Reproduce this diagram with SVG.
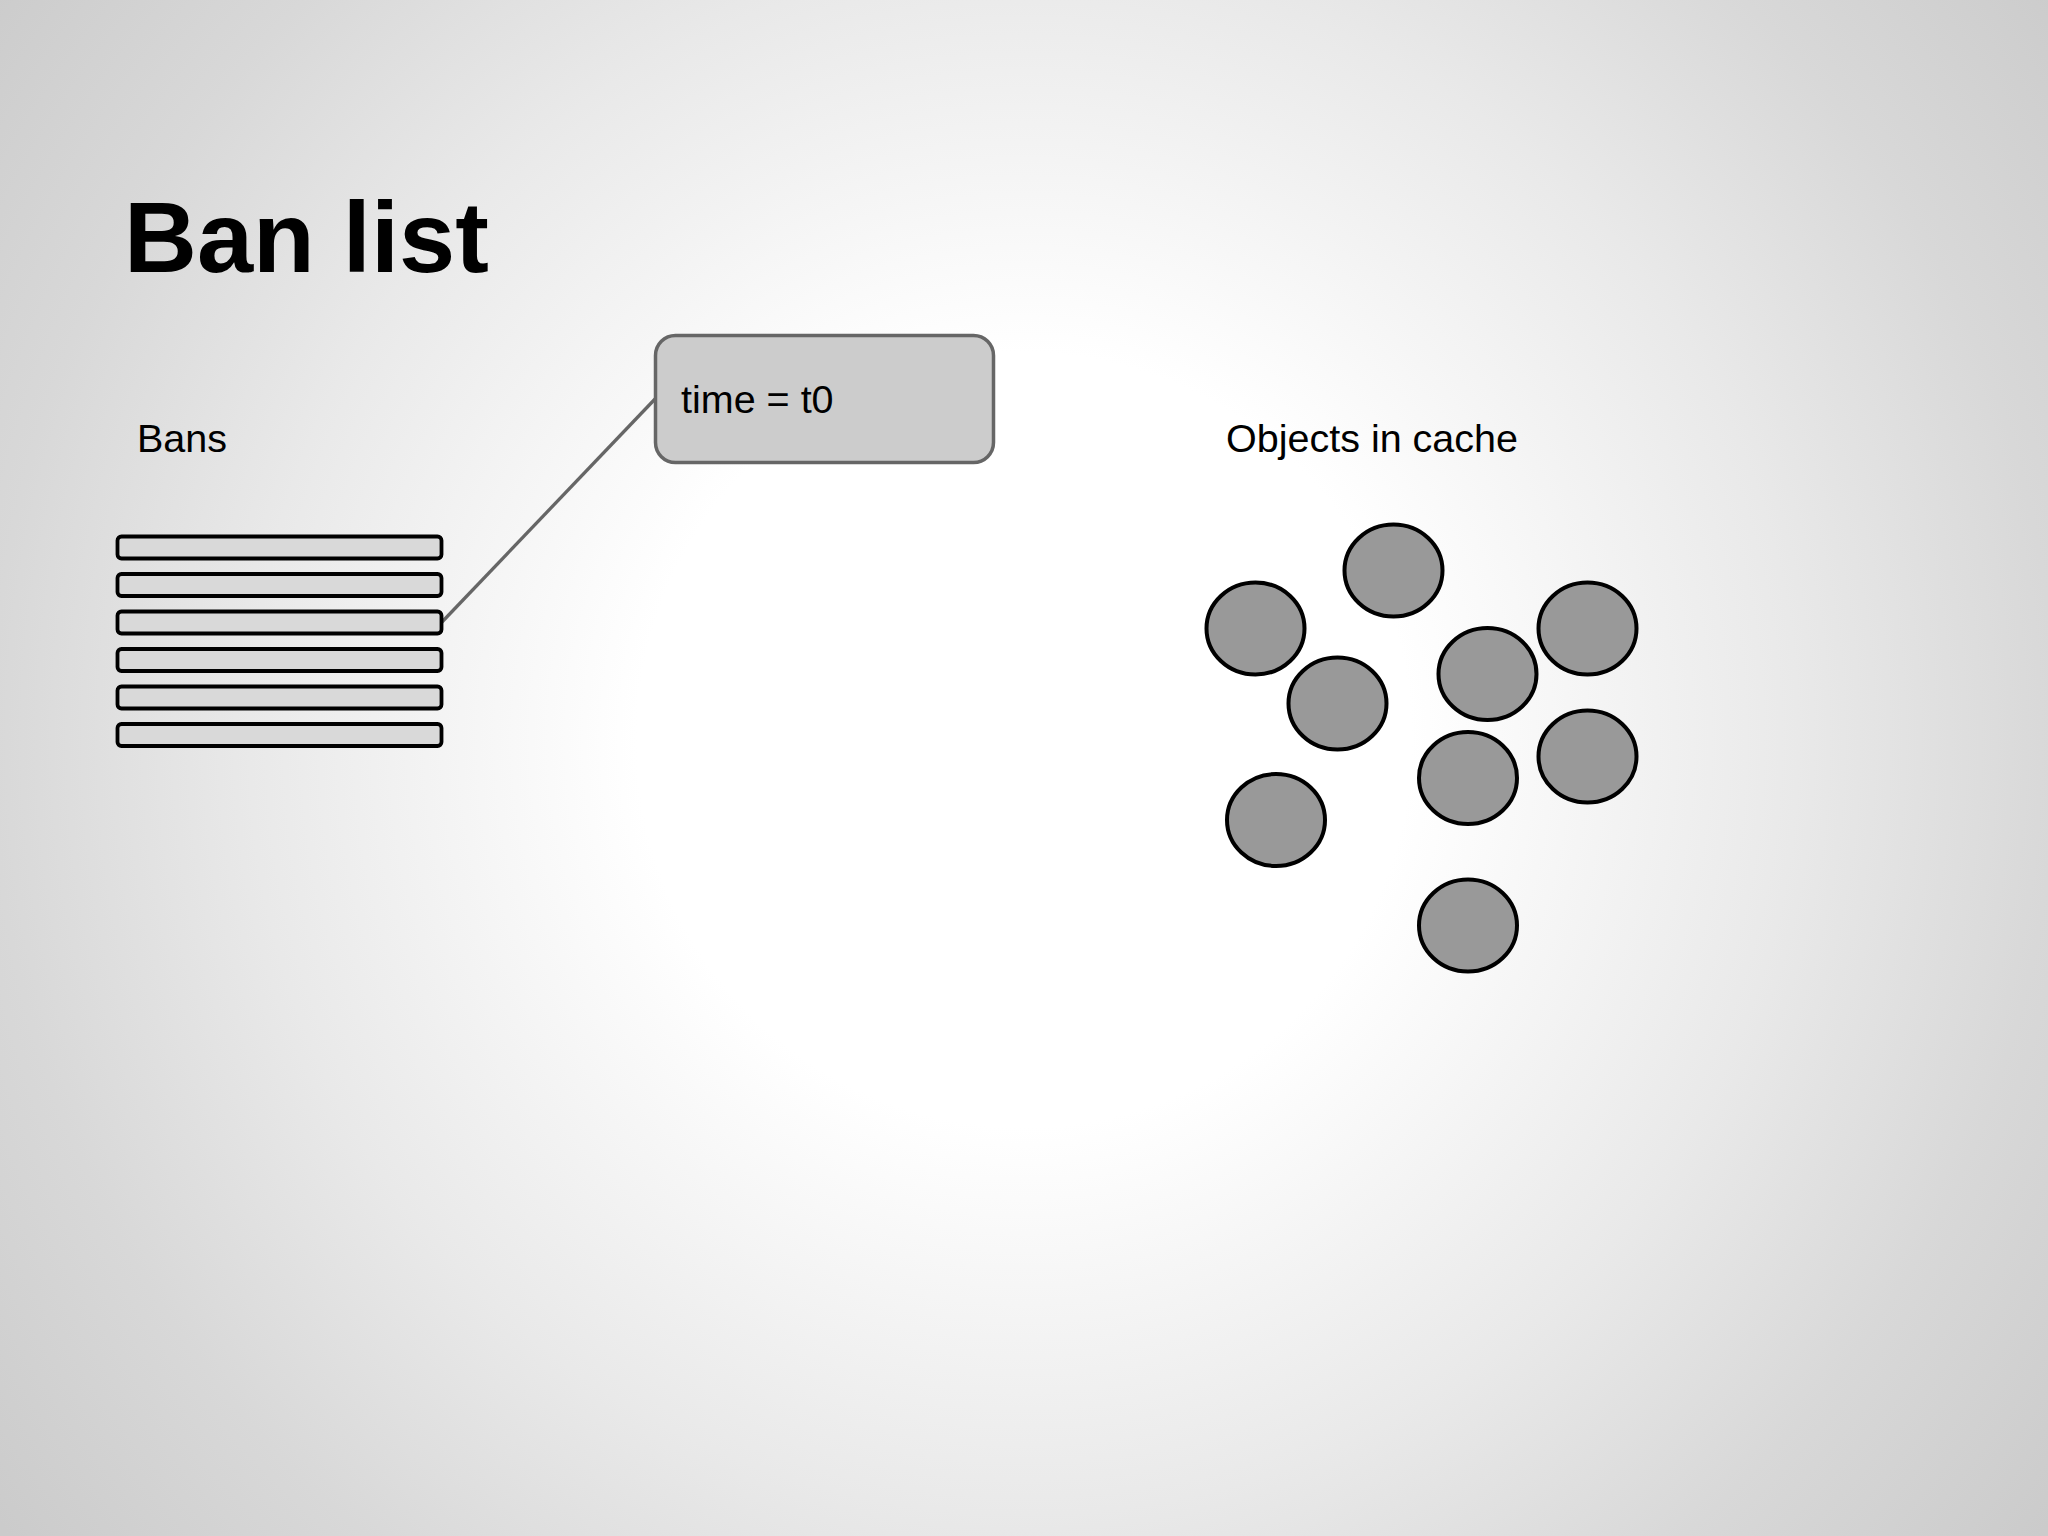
<svg xmlns="http://www.w3.org/2000/svg" width="2048" height="1536" viewBox="0 0 2048 1536">
  <defs>
    <radialGradient id="bg" gradientUnits="userSpaceOnUse" cx="1024" cy="740" r="1290">
      <stop offset="0" stop-color="#ffffff"/>
      <stop offset="0.3" stop-color="#ffffff"/>
      <stop offset="0.6" stop-color="#e9e9e9"/>
      <stop offset="0.8" stop-color="#d8d8d8"/>
      <stop offset="1" stop-color="#cbcbcb"/>
    </radialGradient>
    <style>
      .txt { font-family: "Liberation Sans", Arial, sans-serif; fill: #000; }
      .title { font-size: 101px; font-weight: bold; }
      .label { font-size: 39.5px; }
      .bar { fill: #d9d9d9; stroke: #000; stroke-width: 3.8; }
      .obj { fill: #999999; stroke: #000; stroke-width: 4; }
      .callout { fill: #cccccc; stroke: #666666; stroke-width: 3.5; }
      .conn { fill: none; stroke: #666666; stroke-width: 3.3; }
    </style>
  </defs>
  <rect x="0" y="0" width="2048" height="1536" fill="url(#bg)"/>

  <text class="txt title" x="124" y="272">Ban list</text>
  <text class="txt label" x="137" y="452">Bans</text>
  <text class="txt label" x="1226" y="452">Objects in cache</text>

  <g id="connectors">
    <line class="conn" x1="442" y1="622" x2="655" y2="399"/>
  </g>

  <g id="bans">
    <rect id="ban1" class="bar" x="117.5" y="536.5" width="324" height="22" rx="4"/>
    <rect id="ban2" class="bar" x="117.5" y="574" width="324" height="22" rx="4"/>
    <rect id="ban3" class="bar" x="117.5" y="611.5" width="324" height="22" rx="4"/>
    <rect id="ban4" class="bar" x="117.5" y="649" width="324" height="22" rx="4"/>
    <rect id="ban5" class="bar" x="117.5" y="686.5" width="324" height="22" rx="4"/>
    <rect id="ban6" class="bar" x="117.5" y="724" width="324" height="22" rx="4"/>
  </g>

  <g id="callout">
    <rect class="callout" x="655.5" y="335.5" width="338" height="127" rx="20"/>
    <text class="txt label" x="681" y="413">time = t0</text>
  </g>

  <g id="objects">
    <ellipse id="obj1" class="obj" cx="1393.5" cy="570.5" rx="49" ry="46"/>
    <ellipse id="obj2" class="obj" cx="1255.5" cy="628.5" rx="49" ry="46"/>
    <ellipse id="obj3" class="obj" cx="1337.5" cy="703.5" rx="49" ry="46"/>
    <ellipse id="obj4" class="obj" cx="1487.5" cy="674" rx="49" ry="46"/>
    <ellipse id="obj5" class="obj" cx="1587.5" cy="628.5" rx="49" ry="46"/>
    <ellipse id="obj6" class="obj" cx="1587.5" cy="756.5" rx="49" ry="46"/>
    <ellipse id="obj7" class="obj" cx="1468" cy="778" rx="49" ry="46"/>
    <ellipse id="obj8" class="obj" cx="1276" cy="820" rx="49" ry="46"/>
    <ellipse id="obj9" class="obj" cx="1468" cy="925.5" rx="49" ry="46"/>
  </g>
</svg>
